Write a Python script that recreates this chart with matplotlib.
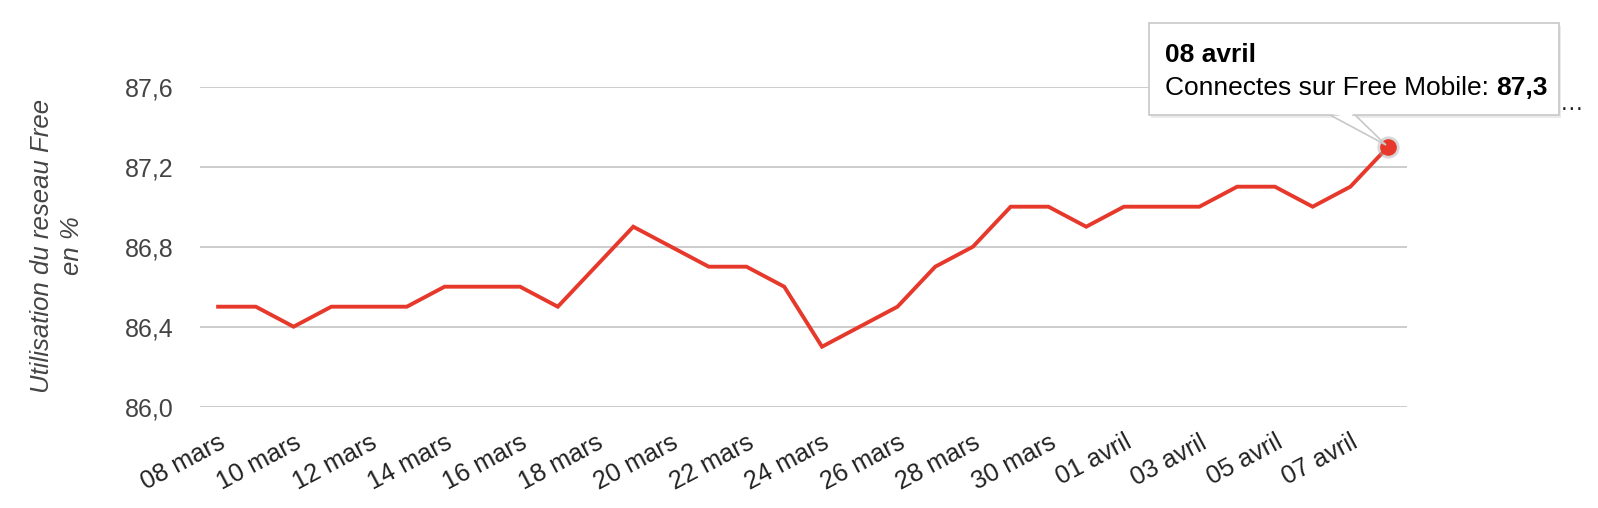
import matplotlib
matplotlib.use("Agg")
import matplotlib.pyplot as plt
from matplotlib.patches import FancyBboxPatch, Polygon
from matplotlib.transforms import ScaledTranslation

plt.rcParams["font.family"] = ["Liberation Sans", "DejaVu Sans"]

dates = ["08 mars", "09 mars", "10 mars", "11 mars", "12 mars", "13 mars", "14 mars",
         "15 mars", "16 mars", "17 mars", "18 mars", "19 mars", "20 mars", "21 mars",
         "22 mars", "23 mars", "24 mars", "25 mars", "26 mars", "27 mars", "28 mars",
         "29 mars", "30 mars", "31 mars", "01 avril", "02 avril", "03 avril", "04 avril",
         "05 avril", "06 avril", "07 avril", "08 avril"]
connectes = [86.5, 86.5, 86.4, 86.5, 86.5, 86.5, 86.6, 86.6, 86.6, 86.5, 86.7, 86.9,
             86.8, 86.7, 86.7, 86.6, 86.3, 86.4, 86.5, 86.7, 86.8, 87.0, 87.0, 86.9,
             87.0, 87.0, 87.0, 87.1, 87.1, 87.0, 87.1, 87.3]
y_ticks = [86.0, 86.4, 86.8, 87.2, 87.6]

W, H = 1598, 508
fig = plt.figure(figsize=(W / 100, H / 100), dpi=100)
ax = fig.add_axes([200 / W, 1 - 406.7 / H, 1207 / W, 320 / H])

x = list(range(len(dates)))
ax.plot(x, connectes, color="#e6392b", lw=2.8, solid_joinstyle="miter", zorder=3)
ax.plot(x[-1], connectes[-1], "o", ms=16, color="#aaaaaa", alpha=0.45, mec="none", zorder=4)
ax.plot(x[-1], connectes[-1], "o", ms=12, color="#e6392b", mec="none", zorder=5)

ax.set_xlim(-0.48, len(dates) - 0.5)
ax.set_ylim(86.0, 87.6)
ax.set_yticks(y_ticks)
ax.set_yticklabels([f"{v:.1f}".replace(".", ",") for v in y_ticks],
                   fontsize=18, color="#444444")
ax.set_xticks(x[::2])
ax.set_xticklabels(dates[::2], rotation=28, ha="right", va="top",
                   rotation_mode="anchor", fontsize=18.2, color="#222222")
shift = ScaledTranslation(-6 / 100, -3 / 100, fig.dpi_scale_trans)
for lab in ax.get_xticklabels():
    lab.set_transform(lab.get_transform() + shift)
ax.tick_params(axis="both", length=0)
ax.tick_params(axis="y", pad=19)
ax.tick_params(axis="x", pad=17)
ax.grid(axis="y", color="#cccccc", lw=1.4)
ax.set_axisbelow(True)
for s in ax.spines.values():
    s.set_visible(False)

fig.text(57 / W, 1 - 246 / H, "Utilisation du reseau Free\nen %", rotation=90,
         style="italic", fontsize=18.5, color="#444444", ha="center", va="center",
         linespacing=1.36)

# tooltip
bx0, bx1, by0, by1 = 1149, 1559, 23, 115
fig.add_artist(FancyBboxPatch((bx0 / W + 0.0015, 1 - by1 / H - 0.005),
                              (bx1 - bx0) / W, (by1 - by0) / H,
                              boxstyle="square,pad=0", transform=fig.transFigure,
                              fc="#000000", alpha=0.08, ec="none", zorder=9))
fig.add_artist(Polygon([(1330 / W, 1 - by1 / H), (1386 / W, 1 - 145 / H),
                        (1355 / W, 1 - by1 / H)], closed=False,
                       transform=fig.transFigure, fc="white", ec="#c8c8c8",
                       lw=1.2, zorder=10))
fig.add_artist(FancyBboxPatch((bx0 / W, 1 - by1 / H), (bx1 - bx0) / W, (by1 - by0) / H,
                              boxstyle="square,pad=0", transform=fig.transFigure,
                              fc="white", ec="#c8c8c8", lw=1.2, zorder=11))
fig.add_artist(Polygon([(1332 / W, 1 - by1 / H + 0.002), (1353 / W, 1 - by1 / H + 0.002),
                        (1350 / W, 1 - (by1 + 3) / H)], closed=True,
                       transform=fig.transFigure, fc="white", ec="none", zorder=12))
fig.text(1165 / W, 1 - 62 / H, dates[-1], fontsize=19, weight="bold",
         color="black", va="baseline", zorder=13)
t = fig.text(1165 / W, 1 - 95 / H, "Connectes sur Free Mobile: ", fontsize=19,
             color="black", va="baseline", zorder=13)
fig.canvas.draw()
bb = t.get_window_extent()
fig.text(bb.x1 / W, 1 - 95 / H, f"{connectes[-1]:.1f}".replace(".", ","), fontsize=19,
         weight="bold", color="black", va="baseline", zorder=13)
fig.text(1560 / W, 1 - 104 / H, "…", fontsize=17, color="#222222", va="center")

fig.savefig("out.png", dpi=100)
